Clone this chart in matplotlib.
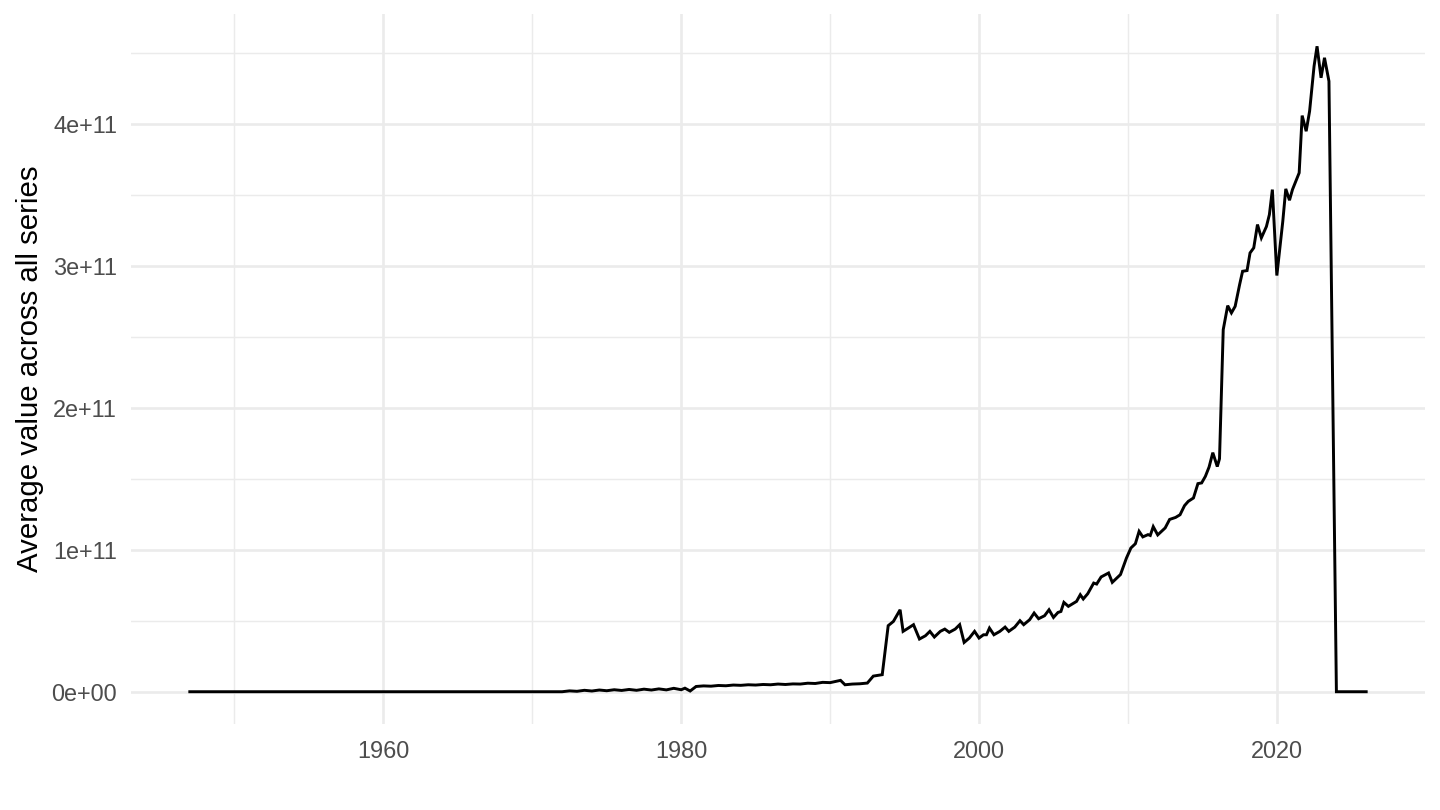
import matplotlib
matplotlib.use("Agg")
import matplotlib.pyplot as plt
import numpy as np

# values (billions)
years = [1947.0, 1950, 1955, 1960, 1965, 1970, 1972.0,
         1972.5, 1973.0, 1973.5, 1974.0, 1974.5, 1975.0, 1975.5, 1976.0,
         1976.5, 1977.0, 1977.5, 1978.0, 1978.5, 1979.0, 1979.5, 1980.0,
         1980.25, 1980.6, 1981.0, 1981.5, 1982.0, 1982.5, 1983.0, 1983.5,
         1984.0, 1984.5, 1985.0, 1985.5, 1986.0, 1986.5, 1987.0, 1987.5,
         1988.0, 1988.5, 1989.0, 1989.5, 1990.0, 1990.7, 1991.0, 1991.5,
         1992.0, 1992.5, 1992.9, 1993.5, 1993.9, 1994.25, 1994.7, 1994.9,
         1995.25, 1995.6, 1996.0, 1996.4, 1996.7, 1997.0, 1997.4, 1997.7,
         1998.0, 1998.4, 1998.7, 1999.0, 1999.35, 1999.7, 2000.0, 2000.3,
         2000.5, 2000.7, 2001.0, 2001.4, 2001.75, 2002.0, 2002.4, 2002.75,
         2003.0, 2003.4, 2003.7, 2004.0, 2004.4, 2004.7, 2005.0, 2005.3,
         2005.5, 2005.7, 2006.0, 2006.3, 2006.55, 2006.8, 2007.0, 2007.3,
         2007.7, 2007.9, 2008.2, 2008.7, 2008.95, 2009.5, 2009.9, 2010.2,
         2010.5, 2010.75, 2011.0, 2011.35, 2011.5, 2011.7, 2012.0, 2012.5,
         2012.8, 2013.2, 2013.5, 2013.8, 2014.05, 2014.4, 2014.7, 2014.95,
         2015.2, 2015.45, 2015.7, 2016.0, 2016.15, 2016.4, 2016.7, 2016.95,
         2017.2, 2017.5, 2017.7, 2018.0, 2018.2, 2018.45, 2018.7, 2018.96,
         2019.3, 2019.5, 2019.7, 2020.0, 2020.4, 2020.6, 2020.85, 2021.05,
         2021.5, 2021.7, 2021.97, 2022.2, 2022.5, 2022.7, 2022.97, 2023.2,
         2023.5, 2024.0, 2025.0, 2026.0]
values = [0, 0, 0, 0, 0, 0, 0,
          0.6, 0.3, 1.0, 0.5, 1.2, 0.7, 1.4, 0.9,
          1.6, 1.0, 1.8, 1.2, 2.0, 1.3, 2.4, 1.4,
          2.5, 0.5, 3.7, 4.1, 3.9, 4.4, 4.2, 4.7,
          4.5, 4.9, 4.7, 5.1, 4.9, 5.4, 5.1, 5.5,
          5.4, 6.0, 5.8, 6.6, 6.4, 8.0, 4.9, 5.4,
          5.6, 6.1, 11.0, 12.0, 46.5, 49.5, 57.7, 42.5,
          44.8, 47.2, 37.1, 39.4, 42.5, 38.5, 42.5, 44.1,
          41.8, 44.1, 47.2, 34.7, 37.8, 42.5, 37.8, 40.1,
          40.1, 44.8, 40.1, 42.5, 45.5, 42.5, 45.5, 50.0,
          47.2, 50.7, 55.4, 51.4, 53.5, 57.7, 52.3, 55.8,
          56.5, 62.9, 60.1, 62.0, 63.6, 68.3, 65.3, 69.0,
          76.5, 75.8, 80.8, 83.6, 77.0, 82.5, 94.1, 101.2,
          104.2, 112.9, 109.0, 110.6, 110.0, 116.2, 110.4, 115.3,
          121.3, 122.7, 124.6, 131.0, 134.0, 136.4, 146.5, 147.0,
          151.6, 158.2, 168.3, 158.5, 164.0, 254.9, 271.8, 266.7,
          271.3, 286.6, 296.0, 296.5, 308.9, 312.5, 328.9, 319.5,
          327.5, 335.9, 353.5, 293.0, 331.2, 354.0, 346.0, 353.5,
          365.3, 405.6, 394.6, 408.7, 440.4, 454.4, 432.2, 446.3,
          429.8, 0, 0, 0]

x_ticks = [1960, 1980, 2000, 2020]
x_minor = [1950, 1970, 1990, 2010]
y_ticks = [0, 1e11, 2e11, 3e11, 4e11]
y_tick_labels = ["0e+00", "1e+11", "2e+11", "3e+11", "4e+11"]
y_minor = [0.5e11, 1.5e11, 2.5e11, 3.5e11, 4.5e11]

plt.rcParams['font.family'] = ['Liberation Sans', 'DejaVu Sans']

fig = plt.figure(figsize=(7.5, 4.21875), dpi=192)
ax = fig.add_axes([131/1440, 1 - 724/810, (1425-131)/1440, (724-14)/810])

yv = np.array(values) * 1e9
ax.plot(years, yv, color='black', lw=1.1, solid_joinstyle='miter', zorder=3)

# ggplot style expansion 5%
x0, x1 = min(years), max(years)
dx = (x1 - x0) * 0.05
ax.set_xlim(x0 - dx, x1 + dx)
y0, y1 = yv.min(), yv.max()
dy = (y1 - y0) * 0.05
ax.set_ylim(y0 - dy, y1 + dy)

ax.set_xticks(x_ticks)
ax.set_xticks(x_minor, minor=True)
ax.set_yticks(y_ticks)
ax.set_yticklabels(y_tick_labels)
ax.set_yticks(y_minor, minor=True)

ax.grid(which='major', color='#EBEBEB', lw=1.0)
ax.grid(which='minor', color='#EBEBEB', lw=0.55)
ax.set_axisbelow(True)
for s in ax.spines.values():
    s.set_visible(False)
ax.tick_params(which='both', length=0)
ax.tick_params(axis='y', pad=5.2, labelsize=8.8, labelcolor='#4D4D4D')
ax.tick_params(axis='x', pad=6.0, labelsize=8.8, labelcolor='#4D4D4D')

fig.text(30/1440, 1 - 369/810, 'Average value across all series', rotation=90,
         ha='center', va='center', fontsize=11, color='black')

fig.savefig('out.png', dpi=192, facecolor='white')
